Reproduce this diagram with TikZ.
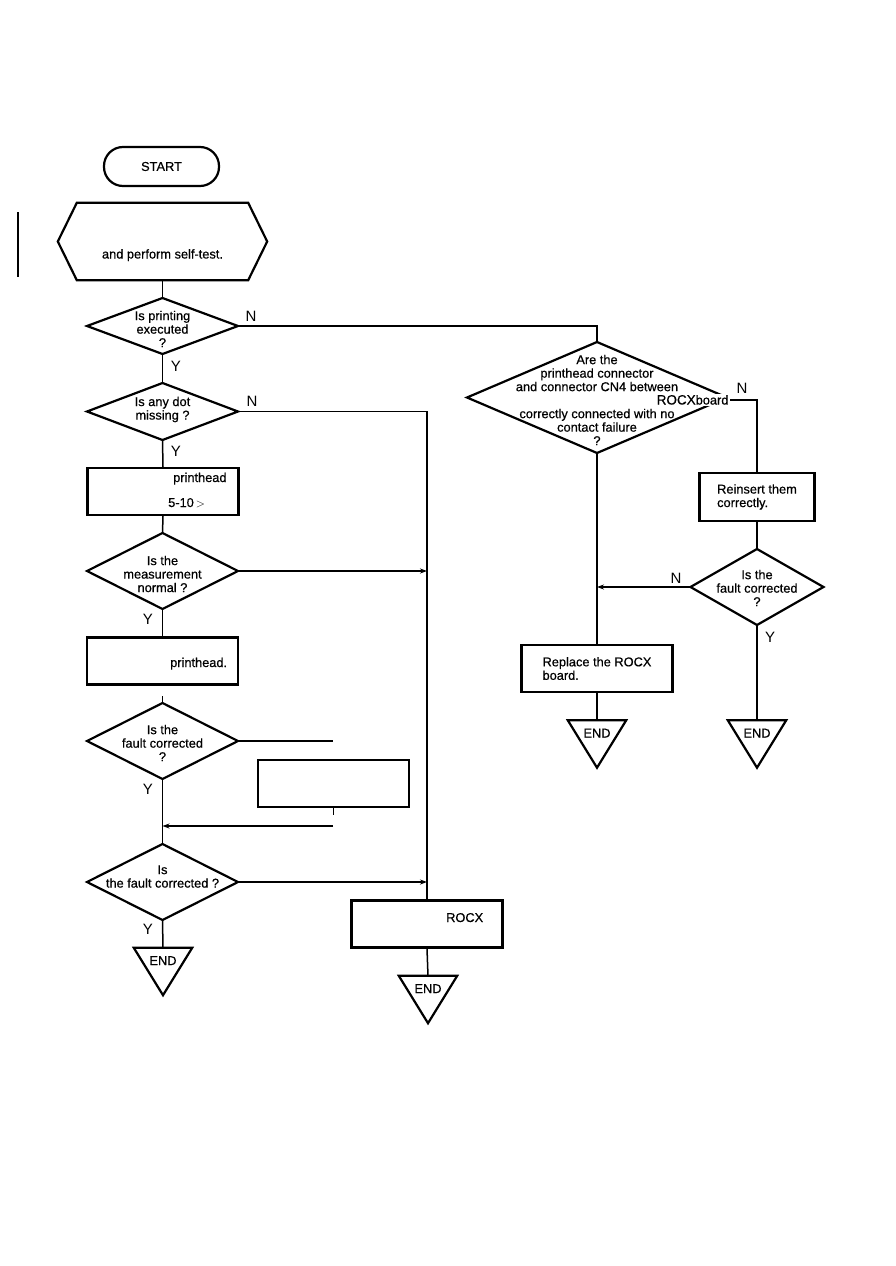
\documentclass[tikz,border=0pt]{standalone}
\usepackage{fontspec}
\setmainfont{Liberation Sans}
\newfontfamily\flowfont{Liberation Sans}[FakeBold=0.6]
\usetikzlibrary{arrows.meta,shapes.geometric,positioning}

\begin{document}
\begin{tikzpicture}[x=1pt, y=-1pt, >={Stealth[length=7pt,width=5pt]},
  txt/.style={font=\flowfont\fontsize{12.8}{13.5}\selectfont, inner sep=0pt, align=center},
  yn/.style={font=\fontsize{15}{15}\selectfont, inner sep=0pt},
  box/.style={txt, draw, line width=2.2pt, minimum width=151pt, minimum height=47pt},
  decision/.style={diamond, draw, line width=2.2pt, minimum width=151pt, inner sep=0pt, outer sep=0pt},
  endmark/.style={txt, minimum width=58pt, minimum height=47pt, text height=17pt, text depth=30pt},
  flow/.style={line width=1.5pt}]
  \useasboundingbox (0,0) rectangle (896,1266);
  % change bar
  \draw[line width=2.8pt] (18,212) -- (18,277);

  % left column
  \node[txt, draw, line width=2.2pt, rounded corners=19pt, minimum width=115pt, minimum height=39pt] (start) at (161.5,166.5) {START};
  \node[txt, minimum width=171pt, minimum height=77pt, text height=55.5pt, text depth=21.5pt] (selftest) at (162.5,241.5) {and perform self-test.};
  \draw[line width=2.2pt] (selftest.north west) -- (selftest.north east) -- ([xshift=19pt]selftest.east)
    -- (selftest.south east) -- (selftest.south west) -- ([xshift=-19pt]selftest.west) -- cycle;
  \node[decision, minimum height=56pt, label={[txt, yshift=-3pt]center:{Is printing\\executed\\?}}] (q1) at (162.5,326) {};
  \node[decision, minimum height=57pt, label={[txt, yshift=2pt]center:{Is any dot\\missing ?}}] (q2) at (162.5,411.5) {};
  \node[box] (check1) at (163,491.5) {};
  \node[txt, anchor=base west] (check1a) at (173,482) {printhead};
  \node[txt, anchor=base west] (check1b) at (168,507) {5-10\,$>$};
  \node[decision, minimum height=76pt, label={[txt, yshift=-3pt]center:{Is the\\measurement\\normal ?}}] (q3) at (162.5,571) {};
  \node[box] (replhead) at (162.5,661) {};
  \node[txt, anchor=base west] (replheada) at (170,667) {printhead.};
  \node[decision, minimum height=76pt, label={[txt, yshift=-2pt]center:{Is the\\fault corrected\\?}}] (q4) at (162.5,741) {};
  \node[box] (fix) at (333.5,783.5) {};
  \node[decision, minimum height=76pt, label={[txt, yshift=5.5pt]center:{Is\\the fault corrected ?}}] (q5) at (162.5,882) {};
  \node[endmark] (end1) at (163,971.5) {END};

  % middle column
  \node[box] (rocx) at (427,924) {};
  \node[txt, anchor=base west] (rocxa) at (446,922) {ROCX};
  \node[endmark] (end2) at (428,999.5) {END};

  % right columns
  \node[decision, minimum width=260pt, minimum height=111pt,
    label={[txt, yshift=-2.5pt]center:{Are the\\printhead connector\\and connector CN4 between\\\mbox{}\\correctly connected with no\\contact failure\\?}}] (conn) at (597,397.5) {};
  \node[txt, fill=white, inner sep=1.5pt, anchor=base west] (board) at (655,404.5) {{\fontsize{13.5}{13.5}\selectfont ROCX}board};
  \node[box, minimum width=115pt, minimum height=48pt, align=left] (reins) at (757,497) {Reinsert them\\correctly.};
  \node[decision, minimum width=133pt, minimum height=76pt, label={[txt, yshift=-1pt]center:{Is the\\fault corrected\\?}}] (rq) at (757,587) {};
  \node[box, align=left] (replace) at (597,668.5) {Replace the ROCX\\board.};
  \node[endmark] (end3) at (757,744) {END};
  \node[endmark] (end4) at (597,744) {END};

  \foreach \e in {end1,end2,end3,end4}
    \draw[line width=2.2pt] (\e.north west) -- (\e.north east) -- (\e.south) -- cycle;

  % connectors
  \coordinate (stub) at (162.5,696);
  \coordinate (fixin) at (333,741);
  \coordinate (tick) at (333.5,815);
  \coordinate (back) at (333,826);
  \draw[flow] (selftest.south) -- (q1.north);
  \draw[flow] (q1.east) -| (conn.north);
  \draw[flow] (q1.south) -- (q2.north);
  \draw[flow] (q2.east) -| (rocx.north);
  \draw[flow] (q2.south) -- (check1.north);
  \draw[flow] (check1.south) -- (q3.north);
  \draw[flow, ->] (q3.east) -- (q3.east -| rocx.north);
  \draw[flow] (q3.south) -- (replhead.north);
  \draw[flow] (stub) -- (q4.north);
  \draw[flow] (q4.east) -- (fixin);
  \draw[flow] (fix.south) -- (tick);
  \draw[flow, ->] (back) -- (back -| q4.south);
  \draw[flow] (q4.south) -- (q5.north);
  \draw[flow, ->] (q5.east) -- (q5.east -| rocx.north);
  \draw[flow] (q5.south) -- (end1.north);
  \draw[flow] (rocx.south) -- (end2.north);
  \draw[flow] (conn.south) -- (replace.north);
  \draw[flow] (board.east) -| (reins.north);
  \draw[flow] (reins.south) -- (rq.north);
  \draw[flow, ->] (rq.west) -- (rq.west -| replace.north);
  \draw[flow] (rq.south) -- (end3.north);
  \draw[flow] (replace.south) -- (end4.north);

  % branch labels
  \node[yn] (n1) at (251,316) {N};
  \node[yn] (y1) at (176,366) {Y};
  \node[yn] (n2) at (252,401) {N};
  \node[yn] (y2) at (176,451) {Y};
  \node[yn] (y3) at (148,619) {Y};
  \node[yn] (y4) at (148,789) {Y};
  \node[yn] (y5) at (148,929) {Y};
  \node[yn] (n3) at (742,388) {N};
  \node[yn] (n4) at (676,578) {N};
  \node[yn] (y6) at (770,637) {Y};
\end{tikzpicture}
\end{document}
